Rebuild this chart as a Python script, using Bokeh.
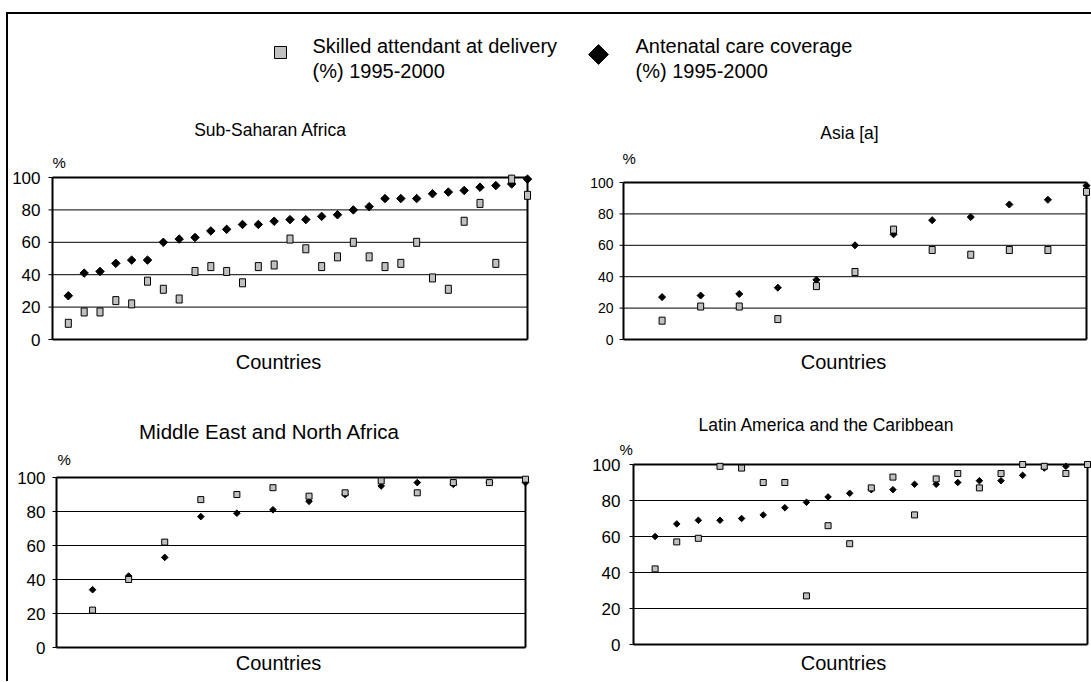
import math
from bokeh.plotting import figure
from bokeh.layouts import column, row, Spacer
from bokeh.models import Range1d, Label
from bokeh.core.properties import value
from bokeh.embed import file_html
from bokeh.resources import INLINE

FONT = "Liberation Sans"
SQ_FILL = "#c0c0c0"

# ---------------- data ----------------
legend_skilled = ["Skilled attendant at delivery", "(%) 1995-2000"]
legend_antenatal = ["Antenatal care coverage", "(%) 1995-2000"]
y_ticks = [0, 20, 40, 60, 80, 100]
y_tick_labels = ["0", "20", "40", "60", "80", "100"]
x_label = "Countries"
unit_label = "%"

titles = ["Sub-Saharan Africa", "Asia [a]", "Middle East and North Africa",
          "Latin America and the Caribbean"]

ssa_skilled = [10, 17, 17, 24, 22, 36, 31, 25, 42, 45, 42, 35, 45, 46, 62,
               56, 45, 51, 60, 51, 45, 47, 60, 38, 31, 73, 84, 47, 99, 89]
ssa_antenatal = [27, 41, 42, 47, 49, 49, 60, 62, 63, 67, 68, 71, 71, 73, 74,
                 74, 76, 77, 80, 82, 87, 87, 87, 90, 91, 92, 94, 95, 96, 99]

asia_skilled = [12, 21, 21, 13, 34, 43, 70, 57, 54, 57, 57, 94]
asia_antenatal = [27, 28, 29, 33, 38, 60, 67, 76, 78, 86, 89, 98]

mena_skilled = [22, 40, 62, 87, 90, 94, 89, 91, 98, 91, 97, 97, 99]
mena_antenatal = [34, 42, 53, 77, 79, 81, 86, 90, 95, 97, 96, 97, 97]

latam_skilled = [42, 57, 59, 99, 98, 90, 90, 27, 66, 56, 87, 93, 72, 92, 95,
                 87, 95, 100, 99, 95, 100]
latam_antenatal = [60, 67, 69, 69, 70, 72, 76, 79, 82, 84, 86, 86, 89, 89, 90,
                   91, 91, 94, 98, 99, 100]

# ---------------- geometry (page pixels) ----------------
# canvas = (left, top, width, height)
# frame  = page x of x=0, x=n ; page y of y=100, y=0
# text positions are (x, vertical centre of the text)
GEOM = {
    "ssa": dict(canvas=(8, 110, 548, 285), frame=(52, 527, 177, 339),
                title=(270, 129, 17.5), pct=(52, 162), xlab=(278, 361),
                tick_font=17, standoff=8, sq=(6, 8), dsize=6),
    "asia": dict(canvas=(556, 110, 535, 285), frame=(623, 1086, 182, 339),
                 title=(849, 132, 17.5), pct=(622, 158), xlab=(843, 361),
                 tick_font=14, standoff=6, sq=(6, 7), dsize=5),
    "mena": dict(canvas=(8, 395, 548, 286), frame=(56, 525, 477, 647),
                 title=(269, 431, 20.5), pct=(57, 459), xlab=(278, 662),
                 tick_font=17, standoff=7, sq=(6, 6), dsize=4.7),
    "latam": dict(canvas=(556, 395, 535, 286), frame=(633, 1087, 464, 644),
                  title=(826, 424, 17.5), pct=(619, 449), xlab=(843, 662),
                  tick_font=17, standoff=9, sq=(6, 6), dsize=4.6),
}


def make_panel(title, skilled, antenatal, g):
    n = len(skilled)
    xs = list(range(1, n + 1))
    cx, cy, w, h = g["canvas"]
    L, R, T, B = g["frame"]
    ppx = (R - L) / n
    ppy = (B - T) / 100
    p = figure(width=w, height=h,
               x_range=Range1d((cx - L) / ppx, (cx + w - L) / ppx),
               y_range=Range1d((B - (cy + h)) / ppy, (B - cy) / ppy),
               output_backend="svg", toolbar_location=None,
               x_axis_location=None, y_axis_location=None,
               min_border=0)
    p.outline_line_color = None
    p.background_fill_color = "white"
    p.border_fill_color = "white"
    p.grid.visible = False

    y0, y100 = y_ticks[0], y_ticks[-1]
    inner = y_ticks[1:-1]
    # horizontal grid lines
    p.segment(x0=[0] * len(inner), y0=inner, x1=[n] * len(inner), y1=inner,
              line_color="black", line_width=1)
    # plot-area border: top, bottom (x axis), right
    p.segment(x0=[0, 0], y0=[y100, y0], x1=[n, n], y1=[y100, y0],
              line_color="black", line_width=2)
    p.segment(x0=[n], y0=[y0], x1=[n], y1=[y100],
              line_color="black", line_width=2)
    # y axis: line, outward ticks and tick labels
    p.segment(x0=[0], y0=[y0], x1=[0], y1=[y100],
              line_color="black", line_width=2)
    p.ray(x=[0] * len(y_ticks), y=y_ticks, length=4, length_units="screen",
          angle=math.pi, line_color="black", line_width=1)
    p.text(x=[0] * len(y_ticks), y=y_ticks, text=y_tick_labels,
           x_offset=-(4 + g["standoff"]), text_align="right",
           text_baseline="middle", text_font=value(FONT),
           text_font_size=f"{g['tick_font']}px", text_color="black")

    # series: antenatal diamonds under skilled-attendant squares
    p.scatter(xs, antenatal, marker="square", angle=math.pi / 4,
              size=g["dsize"], fill_color="black", line_color="black")
    p.rect(xs, skilled, width=g["sq"][0], height=g["sq"][1],
           width_units="screen", height_units="screen",
           fill_color=SQ_FILL, line_color="black", line_width=1)

    def lab(text, px, py, size, align):
        p.add_layout(Label(x=0, y=100, x_offset=px - L, y_offset=T - py,
                           text=text, text_font=FONT,
                           text_font_size=f"{size}px", text_align=align,
                           text_baseline="middle", text_color="black"))

    tx, ty, ts = g["title"]
    lab(title, tx, ty, ts, "center")
    lab(unit_label, g["pct"][0], g["pct"][1], 15, "left")
    lab(x_label, g["xlab"][0], g["xlab"][1], 20, "center")
    return p


# ---------------- legend strip (page coordinates) ----------------
top = figure(width=1083, height=96, x_range=Range1d(8, 1091),
             y_range=Range1d(110, 14), output_backend="svg",
             toolbar_location=None, min_border=0,
             x_axis_location=None, y_axis_location=None)
top.outline_line_color = None
top.grid.visible = False
top.rect(x=[280], y=[52], width=12, height=12, fill_color=SQ_FILL,
         line_color="black", line_width=1)
top.scatter(x=[598], y=[54], marker="square", angle=math.pi / 4, size=14,
            fill_color="black", line_color="black")
top.text(x=[312, 312], y=[45, 70.5], text=legend_skilled,
         text_font=value(FONT), text_font_size="20px",
         text_baseline="middle", text_color="black")
top.text(x=[635, 635], y=[45, 70.5], text=legend_antenatal,
         text_font=value(FONT), text_font_size="20px",
         text_baseline="middle", text_color="black")

p1 = make_panel(titles[0], ssa_skilled, ssa_antenatal, GEOM["ssa"])
p2 = make_panel(titles[1], asia_skilled, asia_antenatal, GEOM["asia"])
p3 = make_panel(titles[2], mena_skilled, mena_antenatal, GEOM["mena"])
p4 = make_panel(titles[3], latam_skilled, latam_antenatal, GEOM["latam"])

inner_box = column(top, row(p1, p2, spacing=0), row(p3, p4, spacing=0),
                   spacing=0,
                   styles={"border-left": "2px solid black",
                           "border-top": "2px solid black"})
layout = column(Spacer(width=1083, height=12),
                row(Spacer(width=6, height=667), inner_box, spacing=0),
                spacing=0)

open("out.html", "w").write(file_html(layout, INLINE))
